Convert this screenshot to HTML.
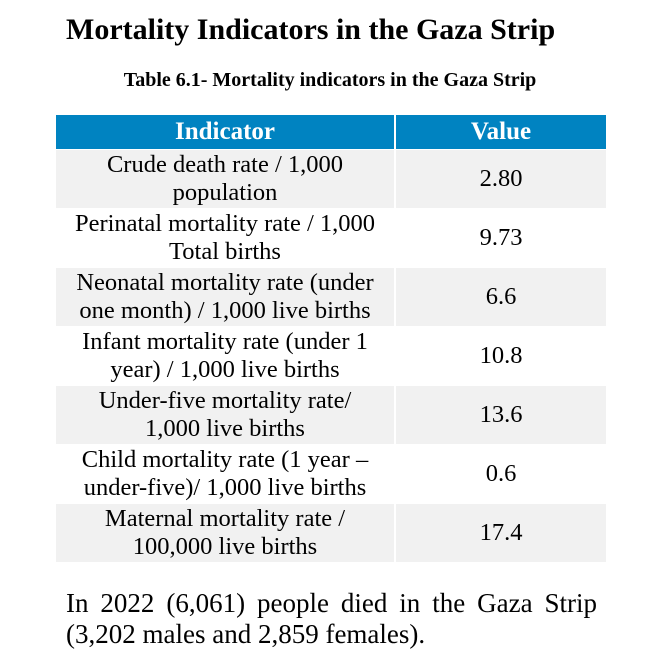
<!DOCTYPE html>
<html><head><meta charset="utf-8"><style>
html,body{margin:0;padding:0;background:#fff;width:658px;height:670px;overflow:hidden}
body{position:relative;font-family:"Liberation Serif",serif;color:#000}
h1{position:absolute;left:66px;top:13px;margin:0;font-size:30px;font-weight:bold;white-space:nowrap}
.sub{position:absolute;left:0;width:660px;top:69px;text-align:center;font-size:20px;font-weight:bold}
table{position:absolute;left:56px;top:115px;width:551px;border-collapse:collapse;table-layout:fixed}
th{background:#0083c1;color:#fff;font-size:25px;font-weight:bold;height:34px;padding:0;border-right:2px solid #fff;line-height:30px}
td{font-size:24.5px;line-height:28px;text-align:center;height:58px;padding:0;border-right:2px solid #fff;border-top:1px solid #fff;white-space:nowrap}
tr.g td{background:#f1f1f1}
p{position:absolute;left:66px;top:588px;width:531px;margin:0;font-size:27px;line-height:31px}
.j{display:block;text-align:justify;text-align-last:justify;white-space:nowrap}
</style></head><body>
<h1>Mortality Indicators in the Gaza Strip</h1>
<div class="sub">Table 6.1- Mortality indicators in the Gaza Strip</div>
<table>
<colgroup><col style="width:339px"><col style="width:212px"></colgroup>
<tr><th>Indicator</th><th>Value</th></tr>
<tr class="g"><td>Crude death rate / 1,000<br>population</td><td>2.80</td></tr>
<tr><td>Perinatal mortality rate / 1,000<br>Total births</td><td>9.73</td></tr>
<tr class="g"><td>Neonatal mortality rate (under<br>one month) / 1,000 live births</td><td>6.6</td></tr>
<tr><td>Infant mortality rate (under 1<br>year) / 1,000 live births</td><td>10.8</td></tr>
<tr class="g"><td>Under-five mortality rate/<br>1,000 live births</td><td>13.6</td></tr>
<tr><td>Child mortality rate (1 year –<br>under-five)/ 1,000 live births</td><td>0.6</td></tr>
<tr class="g"><td>Maternal mortality rate /<br>100,000 live births</td><td>17.4</td></tr>
</table>
<p><span class="j">In 2022 (6,061) people died in the Gaza Strip</span>(3,202 males and 2,859 females).</p>
</body></html>
